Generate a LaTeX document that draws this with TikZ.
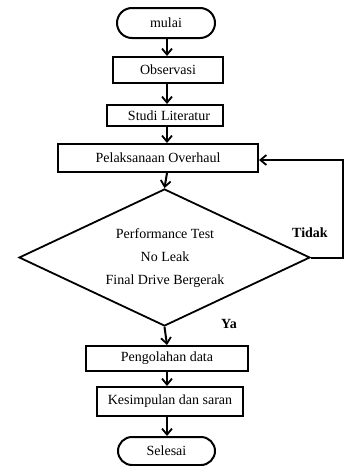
\documentclass[tikz,border=0pt]{standalone}
\usepackage{fontspec}
\setmainfont{Liberation Serif}
\usetikzlibrary{arrows.meta,shapes.geometric,shapes.misc}
\begin{document}
\begin{tikzpicture}[x=1pt,y=-1pt,
  font=\fontsize{14}{16}\selectfont,
  base/.style={draw=black, line width=2pt, inner sep=0pt, align=center},
  proc/.style={base, rectangle},
  term/.style={base, rounded rectangle},
  decide/.style={base, diamond, line width=1.8pt},
  arr/.style={line width=2pt, -{Straight Barb[length=6pt,width=10pt,line width=1.8pt]}},
  lbl/.style={font=\fontsize{14}{16}\selectfont\bfseries}]
\useasboundingbox (0,0) rectangle (344,466);
\coordinate (spine) at (167,0);

\node[term, minimum width=98, minimum height=30] (mulai) at (166,23) {mulai};
\node[proc, minimum width=110, minimum height=26] (obs) at (168,70) {Observasi};
\node[proc, minimum width=116, minimum height=21] (studi) at (165,115.5) {\hspace*{8pt}Studi Literatur};
\node[proc, minimum width=200, minimum height=28] (pel) at (158,158) {Pelaksanaan Overhaul};
\node[decide, minimum width=291, minimum height=137] (test) at (164.5,257.5) {};
\node (t1) at (165,234) {Performance Test};
\node (t2) at (165,257) {No Leak};
\node (t3) at (165,281) {Final Drive Bergerak};
\node[proc, minimum width=162, minimum height=25] (olah) at (167,358.5) {Pengolahan data};
\node[proc, minimum width=146, minimum height=29] (kes) at (170,401.5) {Kesimpulan dan saran};
\node[term, minimum width=97, minimum height=28] (selesai) at (166.5,451) {Selesai};

\node[lbl] (tidak) at (310,233) {Tidak};
\node[lbl] (ya) at (229,324) {Ya};

\draw[arr] (mulai.south -| spine) -- (obs.north -| spine);
\draw[arr] (obs.south -| spine) -- (studi.north -| spine);
\draw[arr] (studi.south -| spine) -- (pel.north -| spine);
\draw[arr] (pel.south -| spine) -- (test.north);
\draw[arr] (test.south) -- (olah.north -| spine);
\draw[arr] (olah.south -| spine) -- (kes.north -| spine);
\draw[arr] (kes.south -| spine) -- (selesai.north -| spine);

\coordinate (fb1) at (343,257.5);
\coordinate (fb2) at (343,160);
\draw[arr] (test.east) -- (fb1) -- (fb2) -- (pel.east |- fb2);
\end{tikzpicture}
\end{document}
